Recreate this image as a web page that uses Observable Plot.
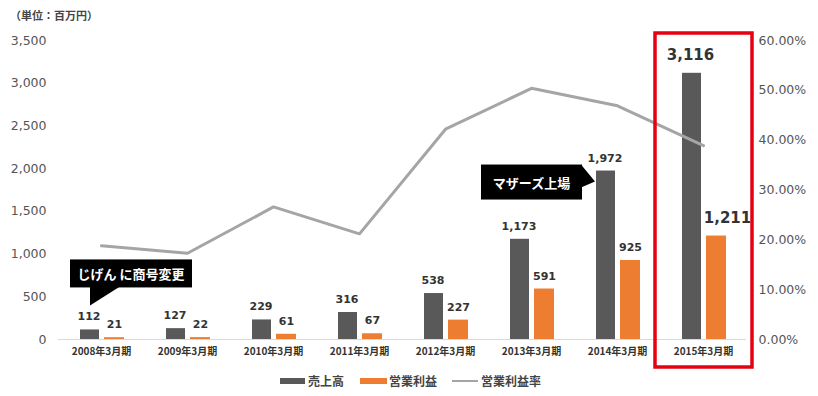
<!DOCTYPE html>
<html><head><meta charset="utf-8">
<script src="https://cdn.jsdelivr.net/npm/d3@7"></script>
<script src="https://cdn.jsdelivr.net/npm/@observablehq/plot@0.6"></script>
<style>
body{margin:0;background:#fff;width:818px;height:396px;overflow:hidden;font-family:"Noto Sans CJK JP",sans-serif;}
#title{height:30px;line-height:30px;padding-left:10px;font-size:11px;font-weight:bold;color:#444;}
#chart{height:340px;}
#legend{position:relative;height:26px;}
#legend .sw{position:absolute;}
#legend .lb{position:absolute;top:0;line-height:22px;font-size:12px;font-weight:bold;color:#444;}
</style></head>
<body>
<div id="title">（単位：百万円）</div>
<div id="chart"></div>
<div id="legend"></div>
<script>
const categories = ["2008年3月期","2009年3月期","2010年3月期","2011年3月期","2012年3月期","2013年3月期","2014年3月期","2015年3月期"];
const sales      = [112, 127, 229, 316, 538, 1173, 1972, 3116];
const opProfit   = [21, 22, 61, 67, 227, 591, 925, 1211];
const opMargin   = [18.8, 17.3, 26.6, 21.2, 42.2, 50.4, 46.9, 38.9];
const leftTicks  = [0, 500, 1000, 1500, 2000, 2500, 3000, 3500];
const rightTicks = [0, 10, 20, 30, 40, 50, 60];
const seriesNames = ["売上高", "営業利益", "営業利益率"];
const seriesColors = ["#595959", "#ed7d31", "#a5a5a5"];
const notes = [
  {cat: "2008年3月期", text: "じげん に商号変更"},
  {cat: "2014年3月期", text: "マザーズ上場"}
];

const yMax = 3500, pMax = 60;
const toY = p => p * yMax / pMax;
const data = categories.map((c, i) => ({cat: c, sales: sales[i], op: opProfit[i], margin: opMargin[i]}));
const small = data.slice(0, 7), big = data.slice(7);

const W = 818, H = 340, mL = 58, mR = 72, mT = 10, mB = 31;

const plot = Plot.plot({
  width: W, height: H,
  marginLeft: mL, marginRight: mR, marginTop: mT, marginBottom: mB,
  style: {fontFamily: "'DejaVu Sans','Noto Sans CJK JP',sans-serif", background: "#fff"},
  x: {domain: categories, padding: 0, round: false},
  y: {domain: [0, yMax]},
  marks: [
    Plot.axisY({anchor: "left", ticks: leftTicks, tickFormat: d3.format(","), tickSize: 0, tickPadding: 12, fontSize: 12.5, fill: "#555", label: null}),
    Plot.axisY({anchor: "right", ticks: rightTicks.map(toY), tickFormat: v => (v * pMax / yMax).toFixed(2) + "%", tickSize: 0, tickPadding: 12, fontSize: 12.5, fill: "#555", label: null}),
    Plot.axisX({tickSize: 0, tickPadding: 8, fontSize: 10, fontWeight: "bold", fill: "#333", fontFamily: "'Noto Sans CJK JP',sans-serif", label: null}),
    Plot.ruleY([0], {stroke: "#d9d9d9", strokeWidth: 1}),
    Plot.barY(data, {x: "cat", y: "sales", fill: seriesColors[0], insetLeft: 22, insetRight: 45}),
    Plot.barY(data, {x: "cat", y: "op", fill: seriesColors[1], insetLeft: 46, insetRight: 20}),
    Plot.line(data, {x: "cat", y: d => toY(d.margin), stroke: seriesColors[2], strokeWidth: 3}),
    Plot.text(small, {x: "cat", y: "sales", text: d => d3.format(",")(d.sales), dx: -12.5, dy: -13, fontSize: 11, fontWeight: "bold", fill: "#333"}),
    Plot.text(small, {x: "cat", y: "op", text: d => d3.format(",")(d.op), dx: 13, dy: -13, fontSize: 11, fontWeight: "bold", fill: "#333"}),
    Plot.text(big, {x: "cat", y: "sales", text: d => d3.format(",")(d.sales), dx: -13, dy: -18, fontSize: 15, fontWeight: "bold", fill: "#333"}),
    Plot.text(big, {x: "cat", y: "op", text: d => d3.format(",")(d.op), dx: 24, dy: -18, fontSize: 15, fontWeight: "bold", fill: "#333"})
  ]
});
document.getElementById("chart").appendChild(plot);

const xs = plot.scale("x"), ys = plot.scale("y");
const svg = d3.select(plot);
const bw = xs.bandwidth;

// highlight box around the latest year
const hx = xs.apply(categories[7]);
svg.append("rect").attr("x", hx - 5).attr("y", 3).attr("width", bw + 11).attr("height", H - 6)
  .attr("fill", "none").attr("stroke", "#e50012").attr("stroke-width", 3.5);

// callout 1 (pointer down to 2008 sales bar)
{
  const tx = xs.apply(notes[0].cat) + 32, ty = ys.apply(sales[0]) - 24;
  const g = svg.append("g");
  g.append("rect").attr("x", tx - 20).attr("y", ty - 46).attr("width", 122).attr("height", 28).attr("fill", "#000");
  g.append("path").attr("d", `M${tx},${ty - 19}L${tx + 30},${ty - 19}L${tx},${ty}Z`).attr("fill", "#000");
  g.append("text").attr("x", tx + 41).attr("y", ty - 32).attr("text-anchor", "middle").attr("dominant-baseline", "central")
    .attr("fill", "#fff").attr("font-size", 13).attr("font-weight", "bold").attr("font-family", "'Noto Sans CJK JP',sans-serif").text(notes[0].text);
}
// callout 2 (pointer right to 2014 sales bar)
{
  const tx = xs.apply(notes[1].cat) + 21, ty = ys.apply(sales[6]) + 11;
  const g = svg.append("g");
  g.append("rect").attr("x", tx - 114).attr("y", ty - 17).attr("width", 101).attr("height", 35).attr("fill", "#000");
  g.append("path").attr("d", `M${tx - 14},${ty - 17}L${tx},${ty}L${tx - 14},${ty + 6}Z`).attr("fill", "#000");
  g.append("text").attr("x", tx - 63.5).attr("y", ty + 0.5).attr("text-anchor", "middle").attr("dominant-baseline", "central")
    .attr("fill", "#fff").attr("font-size", 13).attr("font-weight", "bold").attr("font-family", "'Noto Sans CJK JP',sans-serif").text(notes[1].text);
}

// legend
const lg = document.getElementById("legend");
const items = [
  {sx: 280, sw: 25, sh: 6, tx: 308},
  {sx: 360, sw: 27, sh: 6, tx: 389},
  {sx: 452, sw: 26, sh: 2, tx: 481}
];
items.forEach((it, i) => {
  const s = document.createElement("div");
  s.className = "sw";
  s.style.cssText = `left:${it.sx}px;top:${11 - it.sh / 2}px;width:${it.sw}px;height:${it.sh}px;background:${seriesColors[i]}`;
  lg.appendChild(s);
  const t = document.createElement("div");
  t.className = "lb";
  t.style.left = it.tx + "px";
  t.textContent = seriesNames[i];
  lg.appendChild(t);
});
</script>
</body></html>
